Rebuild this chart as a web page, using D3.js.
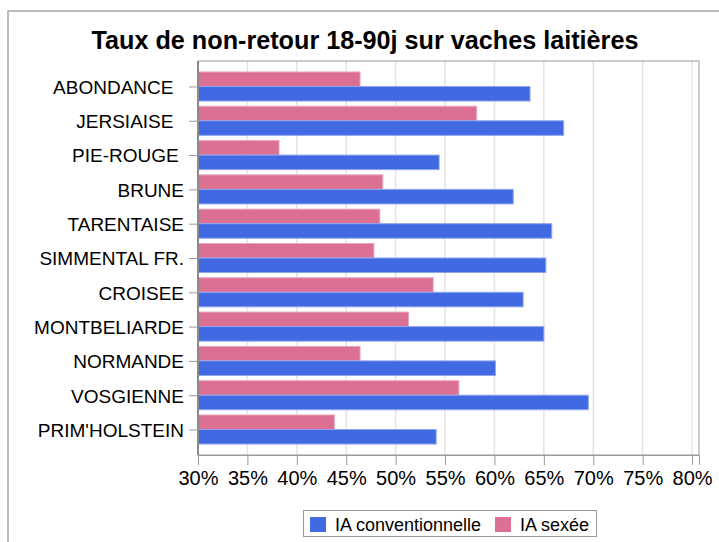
<!DOCTYPE html>
<html><head><meta charset="utf-8">
<script src="https://cdn.jsdelivr.net/npm/d3@7"></script>
<style>
html,body{margin:0;padding:0;background:#fff;}
svg{display:block;font-family:"Liberation Sans",Arial,sans-serif;}
</style></head><body>
<svg id="chart" width="719" height="542"></svg>
<script>
const title = "Taux de non-retour 18-90j sur vaches laitières";
const categories = ["ABONDANCE  ","JERSIAISE  ","PIE-ROUGE ","BRUNE","TARENTAISE","SIMMENTAL FR.","CROISEE","MONTBELIARDE","NORMANDE","VOSGIENNE","PRIM'HOLSTEIN"];
const conventionnelle = [63.6,67.0,54.4,61.9,65.8,65.2,62.9,65.0,60.1,69.5,54.1];
const sexee = [46.4,58.2,38.2,48.7,48.4,47.8,53.8,51.3,46.4,56.4,43.8];
const xTicks = [30,35,40,45,50,55,60,65,70,75,80];
const seriesNames = ["IA conventionnelle","IA sexée"];
const seriesColors = ["#4169E1","#DB7093"];
const strokeColors = ["#8ea4ee","#eaa6bd"];

const svg = d3.select("#chart");
svg.append("rect").attr("x",8).attr("y",11).attr("width",730).attr("height",560)
  .attr("fill","#fff").attr("stroke","#a8a8a8").attr("stroke-width",1.5);

svg.append("text").attr("x",365).attr("y",49).attr("text-anchor","middle")
  .attr("font-size",25.2).attr("font-weight","bold").attr("fill","#000").text(title);

const L=198, R=699, T=61, B=455;
const x = d3.scaleLinear().domain([30,80.7]).range([L,R]);
const y = d3.scaleBand().domain(categories).range([T,B]).paddingInner(0).paddingOuter(0.243);
const sub = d3.scaleBand().domain(["sexee","conv"]).range([0,y.bandwidth()]).paddingInner(0).paddingOuter(0.18);

// gridlines
svg.append("g").selectAll("line").data(xTicks.slice(1)).join("line")
  .attr("x1",d=>x(d)).attr("x2",d=>x(d)).attr("y1",T).attr("y2",B)
  .attr("stroke","#e4e4e4").attr("stroke-width",1.5);

const rows = svg.append("g").selectAll("g").data(categories).join("g")
  .attr("transform",d=>`translate(0,${y(d)})`);
rows.append("rect").attr("x",x(30)).attr("y",sub("sexee"))
  .attr("width",(d,i)=>x(sexee[i])-x(30)).attr("height",sub.bandwidth())
  .attr("fill",seriesColors[1]).attr("stroke",strokeColors[1]).attr("stroke-width",1);
rows.append("rect").attr("x",x(30)).attr("y",sub("conv"))
  .attr("width",(d,i)=>x(conventionnelle[i])-x(30)).attr("height",sub.bandwidth())
  .attr("fill",seriesColors[0]).attr("stroke",strokeColors[0]).attr("stroke-width",1);

// plot frame
svg.append("rect").attr("x",L).attr("y",T).attr("width",R-L).attr("height",B-T)
  .attr("fill","none").attr("stroke","#9a9a9a").attr("stroke-width",1);

// x axis
const xAxis = d3.axisBottom(x).tickValues(xTicks).tickFormat(d=>d+"%").tickSize(10).tickPadding(6);
const gx = svg.append("g").attr("transform",`translate(0,${B})`).call(xAxis);
gx.select(".domain").attr("stroke","#9a9a9a");
gx.selectAll(".tick line").attr("stroke","#9a9a9a");
gx.selectAll(".tick text").attr("font-size",20).attr("fill","#000").attr("font-family","Liberation Sans, Arial, sans-serif");

// y axis
const yCenter = d3.scalePoint().domain(categories).range([y(categories[0])+y.bandwidth()/2, y(categories[categories.length-1])+y.bandwidth()/2]);
const yAxis = d3.axisLeft(yCenter).tickSize(9).tickPadding(5);
const gy = svg.append("g").attr("transform",`translate(${L},0)`).call(yAxis);
gy.select(".domain").attr("d",`M0,${T}V${B}`).attr("stroke","#8a8a8a").attr("stroke-width",2);
gy.selectAll(".tick line").attr("stroke","#9a9a9a");
gy.selectAll(".tick text").attr("font-size",19).attr("fill","#000")
  .attr("font-family","Liberation Sans, Arial, sans-serif").style("white-space","pre").attr("dy","0.36em");

// legend
const lg = svg.append("g");
lg.append("rect").attr("x",303.5).attr("y",510.5).attr("width",293).attr("height",26)
  .attr("fill","#fff").attr("stroke","#9a9a9a").attr("stroke-width",1);
const legX = [310,495];
seriesNames.forEach((n,i)=>{
  lg.append("rect").attr("x",legX[i]).attr("y",517).attr("width",16).attr("height",15).attr("fill",seriesColors[i]);
  lg.append("text").attr("x",legX[i]+25).attr("y",531).attr("font-size",18).attr("fill","#000").text(n);
});
</script>
</body></html>
